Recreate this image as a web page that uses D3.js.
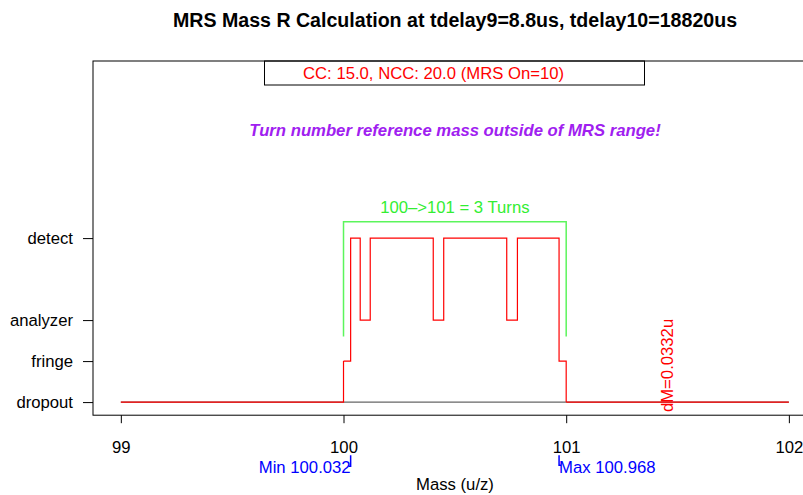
<!DOCTYPE html>
<html>
<head>
<meta charset="utf-8">
<script src="https://cdn.jsdelivr.net/npm/d3@7"></script>
<style>
  body { margin: 0; background: #fff; }
  svg { font-family: "Liberation Sans", Arial, sans-serif; }
</style>
</head>
<body>
<div id="chart"></div>
<script>
// Mass ticks on the x axis
var massTicks = [99, 100, 101, 102];

// Detector state levels (y axis)
var levelNames = ["dropout", "fringe", "analyzer", "detect"];
var levelValues = [0, 1, 2, 4];

// Step trace: mass where a state begins, and the state value
var stepMass = [99, 100.0, 100.032, 100.075, 100.12, 100.403, 100.45, 100.733, 100.781, 100.968, 101.0, 102];
var stepLevel = [0, 1, 4, 2, 4, 2, 4, 2, 4, 1, 0, 0];

// Turn bracket and MRS range
var bracketMass = [100, 101];
var bracketLevel = [1.6, 4.4];
var mrsMin = 100.032, mrsMax = 100.968;
var dM = 0.0332;

var width = 803, height = 495;
var fontSize = "16.7px";

var xScale = d3.scaleLinear().domain([98.875, 102.125]).range([93, 816.7]);
var yScale = d3.scaleLinear().domain([-0.32, 8.32]).range([415.2, 61]);

var svg = d3.select("#chart").append("svg")
    .attr("width", width)
    .attr("height", height);

var x0 = xScale.range()[0], x1 = xScale.range()[1];
var y0 = yScale.range()[0], y1 = yScale.range()[1];

// Title
svg.append("text")
    .attr("x", 455)
    .attr("y", 27)
    .attr("text-anchor", "middle")
    .style("font-weight", "bold")
    .style("font-size", "19.6px")
    .text("MRS Mass R Calculation at tdelay9=8.8us, tdelay10=18820us");

// Baseline at dropout
svg.append("line")
    .attr("x1", xScale(99)).attr("x2", xScale(102))
    .attr("y1", yScale(0)).attr("y2", yScale(0))
    .attr("stroke", "#666")
    .attr("stroke-width", 1.2);

// Step trace
var line = d3.line()
    .x(function(d) { return xScale(d[0]); })
    .y(function(d) { return yScale(d[1]); })
    .curve(d3.curveStepAfter);

var stepData = stepMass.map(function(m, i) { return [m, stepLevel[i]]; });

// outside 100..101 the trace sits on the dropout line, inside it is drawn over
svg.append("path")
    .datum(stepData.filter(function(d) { return d[0] <= 100; }))
    .attr("d", line)
    .attr("fill", "none")
    .attr("stroke", "#ff0000")
    .attr("stroke-width", 1.2);

svg.append("path")
    .datum(stepData.filter(function(d) { return d[0] >= 100 && d[0] <= 101; }))
    .attr("d", line)
    .attr("fill", "none")
    .attr("stroke", "#ff0000")
    .attr("stroke-width", 1.2);

svg.append("path")
    .datum(stepData.filter(function(d) { return d[0] >= 101; }))
    .attr("d", line)
    .attr("fill", "none")
    .attr("stroke", "#ff0000")
    .attr("stroke-width", 1.2);

// Green turn bracket
var bracket = [
  [bracketMass[0], bracketLevel[0]],
  [bracketMass[0], bracketLevel[1]],
  [bracketMass[1], bracketLevel[1]],
  [bracketMass[1], bracketLevel[0]]
];
svg.append("path")
    .attr("d", d3.line()
      .x(function(d) { return xScale(d[0]); })
      .y(function(d) { return yScale(d[1]); })(bracket))
    .attr("fill", "none")
    .attr("stroke", "#5cf55c")
    .attr("stroke-width", 1.5);

svg.append("text")
    .attr("x", xScale((bracketMass[0] + bracketMass[1]) / 2))
    .attr("y", yScale(bracketLevel[1]) - 9)
    .attr("text-anchor", "middle")
    .attr("fill", "#33ee33")
    .style("font-size", fontSize)
    .text("100\u2013>101 = 3 Turns");

// dM label
svg.append("text")
    .attr("transform", "translate(" + xScale(101.48) + "," + (yScale(0) + 10) + ") rotate(-90)")
    .attr("fill", "#ff0000")
    .style("font-size", fontSize)
    .text("dM=" + dM + "u");

// Purple warning
svg.append("text")
    .attr("x", 455)
    .attr("y", 136)
    .attr("text-anchor", "middle")
    .attr("fill", "#a020f0")
    .style("font-weight", "bold")
    .style("font-style", "italic")
    .style("font-size", fontSize)
    .text("Turn number reference mass outside of MRS range!");

// Legend box at top
svg.append("rect")
    .attr("x", 264.5).attr("y", y1)
    .attr("width", 380).attr("height", 24)
    .attr("fill", "#fff")
    .attr("stroke", "#000")
    .attr("stroke-width", 1);

svg.append("text")
    .attr("x", 303)
    .attr("y", y1 + 18)
    .attr("fill", "#ff0000")
    .style("font-size", fontSize)
    .text("CC: 15.0, NCC: 20.0 (MRS On=10)");

// Plot box
svg.append("rect")
    .attr("x", x0).attr("y", y1)
    .attr("width", x1 - x0).attr("height", y0 - y1)
    .attr("fill", "none")
    .attr("stroke", "#000")
    .attr("stroke-width", 1);

// Axes
var xAxis = d3.axisBottom(xScale).tickValues(massTicks).tickSize(8).tickPadding(18)
    .tickFormat(d3.format("d"));
var gx = svg.append("g")
    .attr("transform", "translate(0," + y0 + ")")
    .call(xAxis);
gx.select(".domain").remove();
gx.selectAll("text").style("font-size", fontSize).attr("fill", "#000").style("font-family", "Liberation Sans, Arial, sans-serif");

var yAxis = d3.axisLeft(yScale).tickValues(levelValues).tickSize(10).tickPadding(10)
    .tickFormat(function(d) { return levelNames[levelValues.indexOf(d)]; });
var gy = svg.append("g")
    .attr("transform", "translate(" + x0 + ",0)")
    .call(yAxis);
gy.select(".domain").remove();
gy.selectAll("text").style("font-size", fontSize).attr("fill", "#000").style("font-family", "Liberation Sans, Arial, sans-serif");

// MRS min / max markers
var markY = y0 + 40;
svg.append("path")
    .attr("d", "M" + (xScale(mrsMin) - 2) + "," + (markY + 11) + "H" + xScale(mrsMin) + "V" + markY)
    .attr("fill", "none").attr("stroke", "#0000ff").attr("stroke-width", 1.5);
svg.append("path")
    .attr("d", "M" + xScale(mrsMax) + "," + markY + "V" + (markY + 10) + "H" + (xScale(mrsMax) + 2))
    .attr("fill", "none").attr("stroke", "#0000ff").attr("stroke-width", 1.5);

svg.append("text")
    .attr("x", xScale(mrsMin))
    .attr("y", markY + 18)
    .attr("text-anchor", "end")
    .attr("fill", "#0000ff")
    .style("font-size", fontSize)
    .text("Min " + mrsMin.toFixed(3));

svg.append("text")
    .attr("x", xScale(mrsMax))
    .attr("y", markY + 18)
    .attr("fill", "#0000ff")
    .style("font-size", fontSize)
    .text("Max " + mrsMax.toFixed(3));

// Axis title
svg.append("text")
    .attr("x", 455)
    .attr("y", 490)
    .attr("text-anchor", "middle")
    .style("font-size", fontSize)
    .text("Mass (u/z)");
</script>
</body>
</html>
